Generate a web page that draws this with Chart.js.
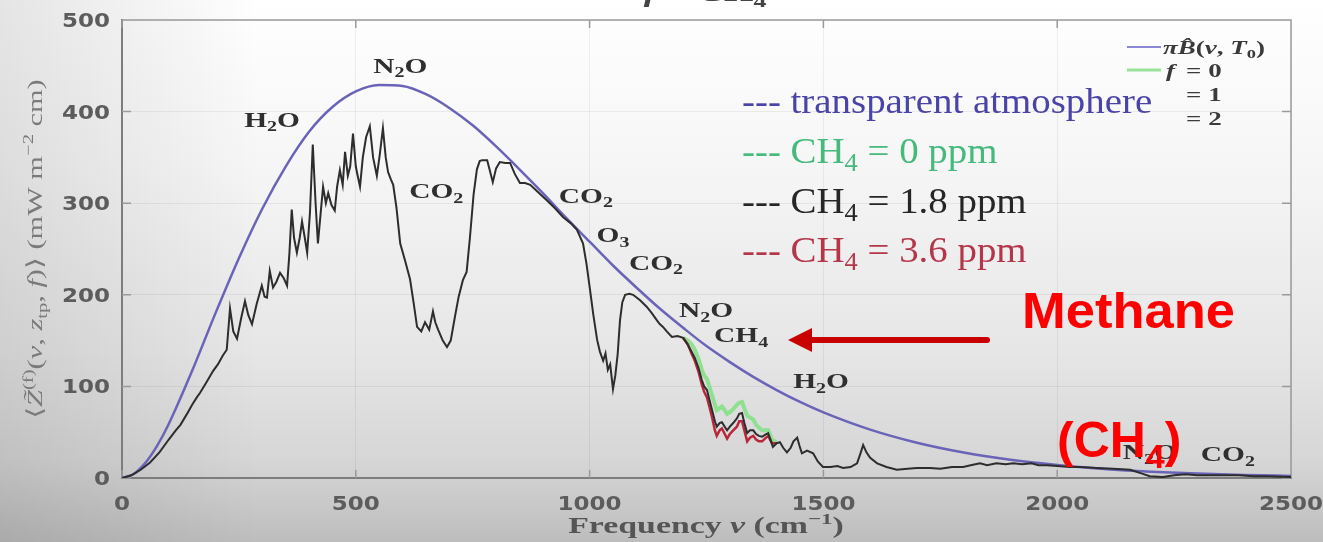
<!DOCTYPE html>
<html>
<head>
<meta charset="utf-8">
<script src="https://cdn.jsdelivr.net/npm/chart.js@4.4.1/dist/chart.umd.min.js"></script>
<style>
  html, body { margin: 0; padding: 0; background: #fff; overflow: hidden; }
  canvas { display: block; }
</style>
</head>
<body>
<canvas id="c" width="1323" height="542"></canvas>
<script>
// Outgoing spectral flux at the top of the atmosphere, f = CH4
// Wavenumbers in cm^-1, flux in mW m^-2 cm

// Surface Planck emission pi*B(nu, T0) (transparent atmosphere)
const planckNu  = [0, 25, 50, 75, 100, 150, 200, 250, 300, 350, 400, 450, 500, 550, 600, 650, 700, 750, 800, 850, 900, 950, 1000, 1050, 1100, 1150, 1200, 1250, 1300, 1350, 1400, 1450, 1500, 1600, 1700, 1800, 1900, 2000, 2100, 2200, 2300, 2400, 2500];
const planckVal = [0, 4.4, 16.5, 35, 59, 117, 180, 240, 294, 340, 378, 405, 422, 429, 428, 419, 404, 385, 362, 337, 311, 284, 258, 232, 208, 185, 164, 144, 126.5, 110.4, 96, 83, 71.6, 52.8, 38.5, 27.8, 19.8, 14.1, 9.9, 6.9, 4.8, 3.3, 2.3];

// Present-day methane (f = 1, CH4 = 1.8 ppm)
const specNu = [0, 20, 40, 60, 80, 100, 115, 125, 139, 150, 160, 167, 180, 195, 205, 216, 224, 231, 238, 246, 255, 263, 270, 278, 288, 299, 305, 310, 316, 323, 330, 338, 346, 353, 358, 363, 368, 374, 380, 385, 391, 396, 402, 408, 414, 419, 425, 430, 436, 441, 448, 455, 460, 466, 472, 477, 483, 488, 494, 500, 504, 509, 515, 522, 530, 537, 545, 551, 558, 564, 569, 575, 580, 587, 595, 605, 616, 624, 631, 640, 648, 657, 665, 670, 676, 686, 695, 703, 712, 720, 729, 737, 744, 752, 759, 765, 770, 781, 787, 793, 800, 808, 820, 830, 840, 851, 862, 873, 890, 909, 925, 943, 960, 973, 986, 993, 1001, 1008, 1016, 1022, 1029, 1034, 1039, 1044, 1050, 1055, 1060, 1065, 1070, 1076, 1085, 1093, 1108, 1122, 1133, 1144, 1150, 1157, 1165, 1176, 1188, 1200, 1208, 1218, 1225, 1233, 1240, 1245, 1251, 1256, 1262, 1268, 1272, 1278, 1283, 1289, 1294, 1300, 1307, 1315, 1320, 1326, 1331, 1337, 1343, 1350, 1356, 1362, 1369, 1375, 1382, 1388, 1392, 1400, 1407, 1414, 1422, 1430, 1436, 1444, 1449, 1454, 1465, 1478, 1488, 1499, 1515, 1530, 1542, 1558, 1572, 1580, 1585, 1592, 1600, 1615, 1635, 1657, 1680, 1700, 1728, 1750, 1775, 1799, 1815, 1835, 1850, 1870, 1890, 1906, 1925, 1945, 1960, 1978, 2000, 2027, 2050, 2085, 2120, 2156, 2180, 2198, 2226, 2250, 2275, 2299, 2330, 2360, 2391, 2420, 2450, 2500];
const specF1 = [0, 3, 9, 17, 28, 42, 52, 58, 70, 80, 88, 93, 104, 117, 124, 134, 140, 185, 160, 152, 175, 193, 178, 168, 190, 210, 198, 197, 226, 208, 214, 224, 218, 210, 245, 293, 262, 246, 262, 280, 262, 246, 290, 364, 300, 256, 290, 318, 300, 311, 298, 292, 318, 336, 320, 356, 330, 340, 376, 340, 330, 318, 350, 372, 384, 350, 330, 352, 382, 350, 334, 326, 320, 295, 256, 238, 217, 190, 165, 160, 170, 162, 182, 170, 162, 150, 143, 150, 176, 198, 216, 225, 262, 310, 337, 346, 347, 347, 335, 323, 338, 345, 344, 344, 332, 322, 322, 320, 312, 303, 295, 285, 278, 271, 256, 235, 205, 178, 151, 138, 128, 136, 118, 124, 97, 112, 135, 172, 192, 200, 201, 200, 194, 187, 180, 172, 168, 165, 160, 154, 155, 153, 147, 138, 131, 120, 107, 100, 96, 86, 74, 62, 56, 60, 61, 56, 52, 56, 60, 65, 70, 71, 60, 49, 52, 52, 48, 46, 45, 47, 49, 40, 34, 38, 39, 33, 28, 33, 40, 44, 35, 27, 30, 27, 18, 12, 12, 13, 11, 12, 16, 28, 36, 28, 22, 16, 12, 9, 10, 11, 11, 10, 12, 12, 14, 16, 14, 16, 15, 16, 15, 16, 14, 14, 13, 12, 12, 11, 10, 9, 5, 2, 1, 3, 4, 3, 3, 3, 3, 2, 2, 1];

// Methane band for the other scenarios (f = 0 and f = 2)
const bandNu = [1200, 1210, 1218, 1225, 1233, 1240, 1245, 1251, 1256, 1262, 1268, 1272, 1278, 1283, 1289, 1294, 1300, 1307, 1315, 1320, 1326, 1331, 1337, 1343, 1350, 1356, 1362, 1369, 1375, 1382, 1390, 1400];
const specF0 = [153, 150, 146, 140, 130, 118, 112, 108, 100, 90, 80, 74, 76, 78, 74, 70, 72, 75, 80, 82, 83, 76, 68, 66, 64, 58, 55, 52, 52, 52, 42, 39];
const specF2 = [153, 146, 136, 128, 116, 102, 94, 88, 78, 66, 52, 46, 52, 54, 48, 43, 48, 52, 56, 62, 62, 52, 40, 44, 46, 42, 40, 40, 43, 46, 38, 38];

// Axis ticks
const xTicks = [0, 500, 1000, 1500, 2000, 2500];
const yTicks = [0, 100, 200, 300, 400, 500];

// Absorber labels: text segments and anchor (wavenumber, flux)
const absorbers = [
  { segs: [['H'], ['2', 1], ['O']], at: [321, 391] },
  { segs: [['N'], ['2', 1], ['O']], at: [595, 450] },
  { segs: [['CO'], ['2', 1]], at: [672, 313] },
  { segs: [['CO'], ['2', 1]], at: [992, 308] },
  { segs: [['O'], ['3', 1]], at: [1050, 265] },
  { segs: [['CO'], ['2', 1]], at: [1142, 235] },
  { segs: [['N'], ['2', 1], ['O']], at: [1249, 183] },
  { segs: [['CH'], ['4', 1]], at: [1324, 156] },
  { segs: [['H'], ['2', 1], ['O']], at: [1495, 106] },
  { segs: [['N'], ['2', 1], ['O']], at: [2198, 28] },
  { segs: [['CO'], ['2', 1]], at: [2365, 26] }
];

const pts = (xs, ys) => xs.map((x, i) => ({ x, y: ys[i] }));

const SERIF = '"Liberation Serif", "DejaVu Serif", serif';
const SANS = '"Liberation Sans", Arial, sans-serif';
const FIG_SX = 1.4;

// Draw a run of text segments: [text, 0 normal | 1 subscript | 2 superscript, italic]
function rich(ctx, segs, x, y, o) {
  const size = o.size, weight = o.weight || 'normal', fam = o.family || SERIF;
  const parts = segs.map(s => {
    const kind = s[1] || 0;
    const fs = kind ? size * 0.68 : size;
    const font = (s[2] ? 'italic ' : '') + weight + ' ' + fs + 'px ' + fam;
    ctx.font = font;
    return { t: s[0], font, w: ctx.measureText(s[0]).width,
             dy: kind === 1 ? size * 0.22 : kind === 2 ? -size * 0.4 : 0 };
  });
  const total = parts.reduce((a, p) => a + p.w, 0);
  const sx = o.sx || 1;
  ctx.save();
  ctx.translate(x, y);
  if (o.rotate) ctx.rotate(o.rotate);
  ctx.scale(sx, 1);
  let cx = o.align === 'center' ? -total / 2 : o.align === 'right' ? -total : 0;
  ctx.fillStyle = o.color;
  ctx.textAlign = 'left';
  ctx.textBaseline = 'alphabetic';
  for (const p of parts) { ctx.font = p.font; ctx.fillText(p.t, cx, p.dy); cx += p.w; }
  ctx.restore();
  return total * sx;
}

const backdrop = {
  id: 'backdrop',
  beforeDraw(chart) {
    const { ctx, width, height } = chart;
    ctx.save();
    const g = ctx.createLinearGradient(0, 0, 0, height);
    g.addColorStop(0, '#ffffff');
    g.addColorStop(0.3, '#f6f6f6');
    g.addColorStop(0.65, '#e6e6e6');
    g.addColorStop(0.85, '#d6d6d6');
    g.addColorStop(1, '#bdbdbd');
    ctx.fillStyle = g;
    ctx.fillRect(0, 0, width, height);
    const h = ctx.createLinearGradient(0, 0, 260, 0);
    h.addColorStop(0, 'rgba(0,0,0,0.10)');
    h.addColorStop(1, 'rgba(0,0,0,0)');
    ctx.fillStyle = h;
    ctx.fillRect(0, 0, 260, height);
    ctx.restore();
  }
};

const frame = {
  id: 'frame',
  beforeDatasetsDraw(chart) {
    const { ctx, chartArea: a, scales: { x, y } } = chart;
    ctx.save();
    ctx.strokeStyle = '#9a9a9a';
    ctx.lineWidth = 1.5;
    ctx.beginPath();
    ctx.moveTo(a.left, a.top); ctx.lineTo(a.right, a.top); ctx.lineTo(a.right, a.bottom);
    for (const t of xTicks) {
      const px = x.getPixelForValue(t);
      ctx.moveTo(px, a.bottom); ctx.lineTo(px, a.bottom - 8);
      ctx.moveTo(px, a.top); ctx.lineTo(px, a.top + 8);
    }
    for (const t of yTicks) {
      const py = y.getPixelForValue(t);
      ctx.moveTo(a.left, py); ctx.lineTo(a.left + 9, py);
      ctx.moveTo(a.right, py); ctx.lineTo(a.right - 9, py);
    }
    ctx.stroke();
    ctx.restore();
  }
};

const annotate = {
  id: 'annotate',
  afterDraw(chart) {
    const { ctx, scales: { x, y } } = chart;

    // tick labels
    ctx.save();
    for (const t of xTicks) {
      rich(ctx, [[String(t)]], x.getPixelForValue(t), 510,
           { size: 20, weight: 'bold', family: '"DejaVu Sans", sans-serif', color: '#5c5c5c', align: 'center', sx: 1.15 });
    }
    for (const t of yTicks) {
      rich(ctx, [[String(t)]], 110, y.getPixelForValue(t) + 7,
           { size: 20, weight: 'bold', family: '"DejaVu Sans", sans-serif', color: '#5c5c5c', align: 'right', sx: 1.15 });
    }

    // axis titles
    rich(ctx, [['Frequency '], ['\u03BD', 0, 1], [' (cm'], ['\u22121', 2], [')']], 706, 533,
         { size: 23, weight: 'bold', color: '#555', align: 'center', sx: 1.47 });
    rich(ctx, [['\u27E8'], ['Z\u0303', 0, 1], ['(f)', 2], ['('], ['\u03BD', 0, 1], [', '], ['z', 0, 1], ['tp', 1],
               [', '], ['f', 0, 1], [')\u27E9 (mW m'], ['\u22122', 2], [' cm)']], 42, 249,
         { size: 22, weight: 'normal', color: '#7a7a7a', align: 'center', rotate: -Math.PI / 2, sx: 1.38 });

    // title (top edge)
    rich(ctx, [['f', 0, 1], [' = CH'], ['4', 1]], 705, 1,
         { size: 27, weight: 'bold', color: '#444', align: 'center', sx: FIG_SX });

    // absorber labels
    for (const m of absorbers) {
      rich(ctx, m.segs, x.getPixelForValue(m.at[0]), y.getPixelForValue(m.at[1]) + 7,
           { size: 21, weight: 'bold', color: '#2f2f2f', align: 'center', sx: FIG_SX });
    }

    // key, upper right
    ctx.lineWidth = 2;
    ctx.strokeStyle = '#8c87d2';
    ctx.beginPath(); ctx.moveTo(1127, 47); ctx.lineTo(1161, 47); ctx.stroke();
    ctx.lineWidth = 3;
    ctx.strokeStyle = '#98e29a';
    ctx.beginPath(); ctx.moveTo(1127, 70); ctx.lineTo(1161, 70); ctx.stroke();
    const keyOpt = { size: 18, weight: 'bold', color: '#3a3a3a', sx: 1.5 };
    rich(ctx, [['\u03C0', 0, 1], ['B\u0302', 0, 1], ['(', 0], ['\u03BD', 0, 1], [', '], ['T', 0, 1], ['0', 1], [')']], 1163, 54, keyOpt);
    rich(ctx, [['f', 0, 1]], 1166, 77, keyOpt);
    rich(ctx, [['= 0']], 1186, 77, keyOpt);
    rich(ctx, [['= 1']], 1186, 101, keyOpt);
    rich(ctx, [['= 2']], 1186, 125, keyOpt);

    // scenario captions
    const capOpt = { size: 36, weight: 'normal', sx: 1.08 };
    rich(ctx, [['--- transparent atmosphere']], 742, 113, Object.assign({ color: '#4a44a8' }, capOpt));
    rich(ctx, [['--- CH'], ['4', 1], [' = 0 ppm']], 742, 163, Object.assign({ color: '#46b97d' }, capOpt));
    rich(ctx, [['--- CH'], ['4', 1], [' = 1.8 ppm']], 742, 213, Object.assign({ color: '#262626' }, capOpt));
    rich(ctx, [['--- CH'], ['4', 1], [' = 3.6 ppm']], 742, 262, Object.assign({ color: '#b5364a' }, capOpt));

    // methane callout
    ctx.strokeStyle = '#c80000';
    ctx.fillStyle = '#c80000';
    ctx.lineWidth = 6;
    ctx.lineCap = 'round';
    ctx.beginPath(); ctx.moveTo(806, 340); ctx.lineTo(987, 340); ctx.stroke();
    ctx.beginPath(); ctx.moveTo(788, 340); ctx.lineTo(812, 328); ctx.lineTo(812, 352); ctx.closePath(); ctx.fill();
    rich(ctx, [['Methane']], 1022, 328, { size: 50, weight: 'bold', family: SANS, color: '#ff0000', sx: 1.05 });
    rich(ctx, [['(CH'], ['4', 1], [')']], 1057, 457, { size: 50, weight: 'bold', family: SANS, color: '#ff0000' });
    ctx.restore();
  }
};

new Chart(document.getElementById('c'), {
  type: 'line',
  data: {
    datasets: [
      { label: 'CH4 = 1.8 ppm', data: pts(specNu, specF1), borderColor: '#2d2d2d', borderWidth: 2, order: 0 },
      { label: 'CH4 = 3.6 ppm', data: pts(bandNu, specF2), borderColor: '#b8283a', borderWidth: 2.5, order: 1 },
      { label: 'CH4 = 0 ppm', data: pts(bandNu, specF0), borderColor: '#8fe090', borderWidth: 4, order: 2 },
      { label: 'transparent atmosphere', data: pts(planckNu, planckVal), borderColor: '#6a64b8', borderWidth: 2.5,
        cubicInterpolationMode: 'monotone', order: 3 }
    ]
  },
  options: {
    responsive: false,
    animation: false,
    events: [],
    parsing: true,
    elements: { point: { radius: 0 }, line: { tension: 0, fill: false } },
    layout: { padding: { top: 20, right: 32, left: 0, bottom: 0 } },
    plugins: { legend: { display: false }, tooltip: { enabled: false }, title: { display: false } },
    scales: {
      x: {
        type: 'linear', min: 0, max: 2500,
        ticks: { stepSize: 500, display: false },
        grid: { color: 'rgba(0,0,0,0.06)', drawTicks: false },
        border: { color: '#7d7d7d', width: 2 },
        afterFit(s) { s.height = 64; }
      },
      y: {
        type: 'linear', min: 0, max: 500,
        ticks: { stepSize: 100, display: false },
        grid: { color: 'rgba(0,0,0,0.06)', drawTicks: false },
        border: { color: '#7d7d7d', width: 2 },
        afterFit(s) { s.width = 122; }
      }
    }
  },
  plugins: [backdrop, frame, annotate]
});
</script>
</body>
</html>
